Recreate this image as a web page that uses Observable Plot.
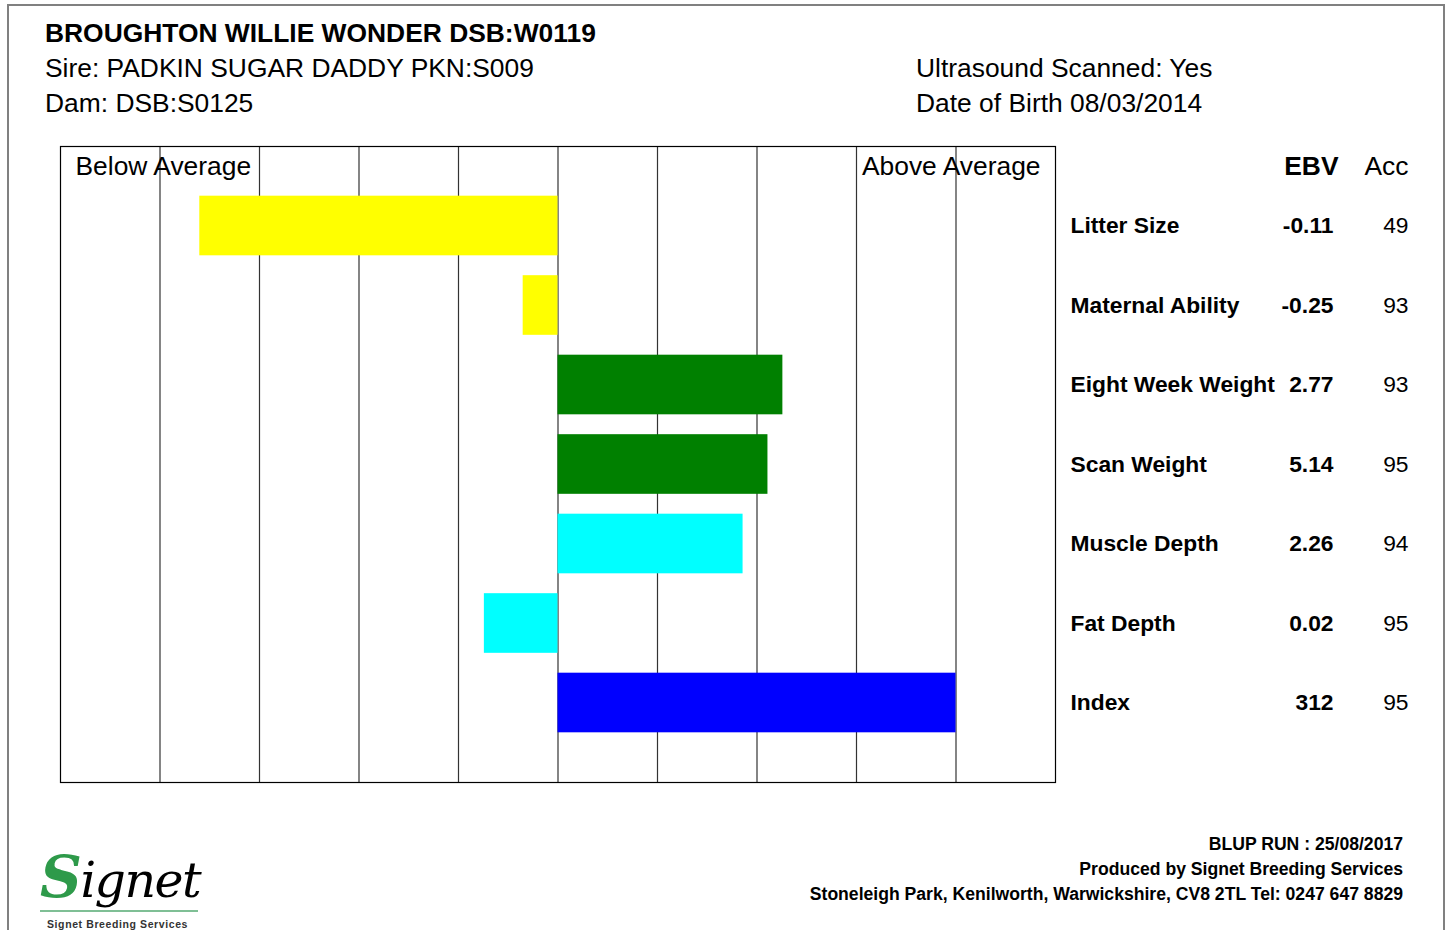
<!DOCTYPE html>
<html>
<head>
<meta charset="utf-8">
<script src="https://cdn.jsdelivr.net/npm/d3@7"></script>
<script src="https://cdn.jsdelivr.net/npm/@observablehq/plot@0.6"></script>
<style>
  html, body { margin: 0; padding: 0; background: #fff; }
  body { width: 1448px; height: 930px; position: relative; overflow: hidden;
         font-family: "Liberation Sans", Arial, Helvetica, sans-serif; color: #000; }
  .page { position: absolute; left: 7px; top: 4px; width: 1438px; height: 1000px;
          border: 2px solid #808080; box-sizing: border-box; }
  .t { position: absolute; white-space: nowrap; line-height: 1; }
  #chart { position: absolute; left: 0; top: 130px; }
  .logo { position: absolute; left: 40px; top: 848px; width: 160px; }
</style>
</head>
<body>
<div class="page"></div>
<div class="t" style="left:45px; top:20px; font-size:26.4px; font-weight:bold;">BROUGHTON WILLIE WONDER DSB:W0119</div>
<div class="t" style="left:45px; top:55px; font-size:26.4px;">Sire: PADKIN SUGAR DADDY PKN:S009</div>
<div class="t" style="left:45px; top:90px; font-size:26.4px;">Dam: DSB:S0125</div>
<div class="t" style="left:916px; top:55px; font-size:26.4px;">Ultrasound Scanned: Yes</div>
<div class="t" style="left:916px; top:90px; font-size:26.4px;">Date of Birth 08/03/2014</div>
<div id="chart"></div>

<div class="t" style="right:45px; top:836px; font-size:17.6px; font-weight:bold;">BLUP RUN : 25/08/2017</div>
<div class="t" style="right:45px; top:861px; font-size:17.6px; font-weight:bold;">Produced by Signet Breeding Services</div>
<div class="t" style="right:45px; top:886px; font-size:17.6px; font-weight:bold;">Stoneleigh Park, Kenilworth, Warwickshire, CV8 2TL Tel: 0247 647 8829</div>

<div class="logo">
  <div class="t" style="left:0; top:0; font-family:'DejaVu Serif', serif; font-style:italic; font-size:49px; letter-spacing:-1.5px;">
    <span style="color:#2e9a4a; font-weight:bold; font-size:58px;">S</span><span>ignet</span>
  </div>
  <div style="position:absolute; left:0; top:62px; width:158px; height:2px; background:#7fbf95;"></div>
  <div class="t" style="left:7px; top:71px; font-size:10.5px; font-weight:bold; letter-spacing:0.6px; color:#333;">Signet Breeding Services</div>
</div>

<script>
// ---- data ----
const traits = ["Litter Size", "Maternal Ability", "Eight Week Weight", "Scan Weight", "Muscle Depth", "Fat Depth", "Index"];
const ebv = ["-0.11", "-0.25", "2.77", "5.14", "2.26", "0.02", "312"];
const acc = ["49", "93", "93", "95", "94", "95", "95"];
// bar lengths in chart units (one grid column = one unit)
const barValues = [-3.6, -0.35, 2.26, 2.11, 1.86, -0.74, 4.0];
const barColors = ["#ffff00", "#ffff00", "#008000", "#008000", "#00ffff", "#00ffff", "#0000ff"];
const gridTicks = [-4, -3, -2, -1, 0, 1, 2, 3, 4];
const xDomain = [-5, 5];
const headers = { below: "Below Average", above: "Above Average", ebv: "EBV", acc: "Acc" };

const rows = traits.map((t, i) => ({
  trait: t, ebv: ebv[i], acc: acc[i], value: barValues[i], color: barColors[i], row: i + 1
}));

const font = "'Liberation Sans', Arial, Helvetica, sans-serif";

const chart = Plot.plot({
  width: 1448,
  height: 660,
  marginLeft: 60,
  marginRight: 393,
  marginTop: 16,
  marginBottom: 8,
  style: { fontFamily: font, background: "transparent", color: "#000", overflow: "visible" },
  x: { domain: xDomain, axis: null },
  y: { domain: [0, 8], reverse: true, axis: null },
  marks: [
    Plot.ruleX(gridTicks, { x: d => d, stroke: "#333", strokeWidth: 1.2 }),
    Plot.rect(rows, {
      x1: 0, x2: "value",
      y1: d => d.row - 0.375, y2: d => d.row + 0.375,
      fill: "color"
    }),
    Plot.frame({ stroke: "#000", strokeWidth: 1.2 }),
    Plot.text([headers.below], { frameAnchor: "top-left", dx: 15, dy: 20, textAnchor: "start", lineAnchor: "middle", fontSize: 26.4 }),
    Plot.text([headers.above], { frameAnchor: "top-right", dx: -15, dy: 20, textAnchor: "end", lineAnchor: "middle", fontSize: 26.4 }),
    Plot.text([headers.ebv], { frameAnchor: "top-right", dx: 283, dy: 20, textAnchor: "end", lineAnchor: "middle", fontSize: 26.4, fontWeight: "bold" }),
    Plot.text([headers.acc], { frameAnchor: "top-right", dx: 353, dy: 20, textAnchor: "end", lineAnchor: "middle", fontSize: 26.4 }),
    Plot.text(rows, { y: "row", text: "trait", frameAnchor: "right", dx: 15, textAnchor: "start", fontSize: 22.8, fontWeight: "bold" }),
    Plot.text(rows, { y: "row", text: "ebv", frameAnchor: "right", dx: 278, textAnchor: "end", fontSize: 22.8, fontWeight: "bold" }),
    Plot.text(rows, { y: "row", text: "acc", frameAnchor: "right", dx: 353, textAnchor: "end", fontSize: 22.8 })
  ]
});
document.getElementById("chart").appendChild(chart);
</script>
</body>
</html>
